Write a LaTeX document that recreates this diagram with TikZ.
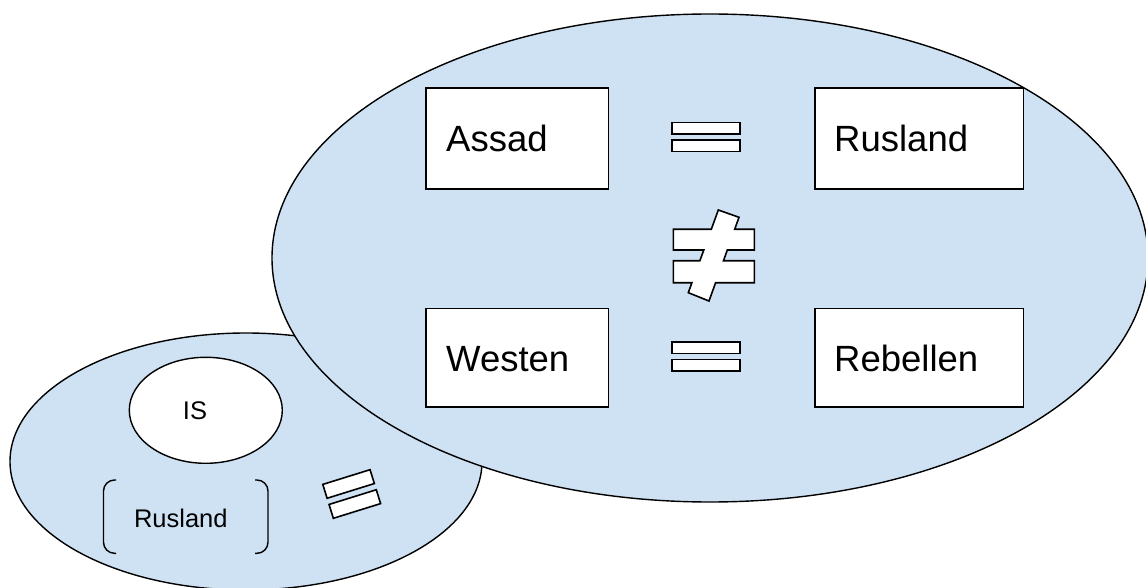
\documentclass[tikz,border=0pt]{standalone}
\usepackage{fontspec}
\setmainfont{Liberation Sans}
\usetikzlibrary{shapes.geometric}
\definecolor{lblue}{HTML}{CFE2F3}
\begin{document}
\begin{tikzpicture}[x=1pt,y=-1pt,
  blob/.style={ellipse, draw=black, fill=lblue, line width=1.4pt, inner sep=0pt},
  inner/.style={ellipse, draw=black, fill=white, line width=1.4pt, inner sep=0pt},
  box/.style={draw=black, fill=white, line width=1.6pt, inner sep=0pt},
  bigtext/.style={font=\fontsize{36.5}{40}\selectfont, anchor=base west, inner sep=0pt},
  smalltext/.style={font=\fontsize{25.5}{30}\selectfont, anchor=base, inner sep=0pt},
  eqbar/.style={draw=black, fill=white, line width=1.6pt},
  bracket/.style={draw=black, line width=1.4pt, rounded corners=11pt},
]
\useasboundingbox (0,0) rectangle (1146,588);
% ellipses
\node[blob, minimum width=472pt, minimum height=257pt] (small) at (246,461.5) {};
\node[blob, minimum width=876pt, minimum height=488pt] (big) at (710,258) {};
% boxes
\node[box, minimum width=182.3pt, minimum height=101pt] (assad) at (517.2,138.8) {};
\node[box, minimum width=208.3pt, minimum height=101pt] (rus) at (919.2,138.8) {};
\node[box, minimum width=182.3pt, minimum height=98.4pt] (westen) at (517.2,357.5) {};
\node[box, minimum width=208.3pt, minimum height=98.4pt] (rebel) at (919.2,357.5) {};
\node[bigtext] (tassad) at (446,151.7) {Assad};
\node[bigtext] (trus) at (834,151.7) {Rusland};
\node[bigtext] (twesten) at (446,371) {Westen};
\node[bigtext] (trebel) at (834,371) {Rebellen};
% equal signs
\draw[eqbar] (671.7,122.7) rectangle (740,134);
\draw[eqbar] (671.7,140) rectangle (740,151.7);
\draw[eqbar] (671.7,342.2) rectangle (740,353.5);
\draw[eqbar] (671.7,359.5) rectangle (740,371.2);
% not equal
\draw[eqbar, line join=miter] (718.3,210) -- (739,217.3) -- (734.7,229.3) -- (754.3,229.3) -- (754.3,250)
  -- (727.3,250) -- (723.5,260.7) -- (754.3,260.7) -- (754.3,282.7) -- (715.6,282.7) -- (709,301)
  -- (688.3,292.7) -- (691.9,282.7) -- (673.3,282.7) -- (673.3,260.7) -- (699.9,260.7) -- (703.8,250)
  -- (673.3,250) -- (673.3,229.3) -- (711.3,229.3) -- cycle;
% small group
\node[inner, minimum width=153pt, minimum height=106pt] (is) at (205.8,410.3) {};
\node[smalltext] (tis) at (195,419.3) {IS};
\draw[bracket] (116,480) -- (103.5,480) -- (103.5,553.3) -- (116,553.3);
\draw[bracket] (255,480) -- (268,480) -- (268,553.3) -- (255,553.3);
\node[smalltext] (trus2) at (180.8,527.3) {Rusland};
\begin{scope}[shift={(351.7,494)}, rotate=17.3]
  \draw[eqbar] (-24.75,-17.75) rectangle (24.75,-3.25);
  \draw[eqbar] (-24.75,3.25) rectangle (24.75,17.75);
\end{scope}
\end{tikzpicture}
\end{document}
